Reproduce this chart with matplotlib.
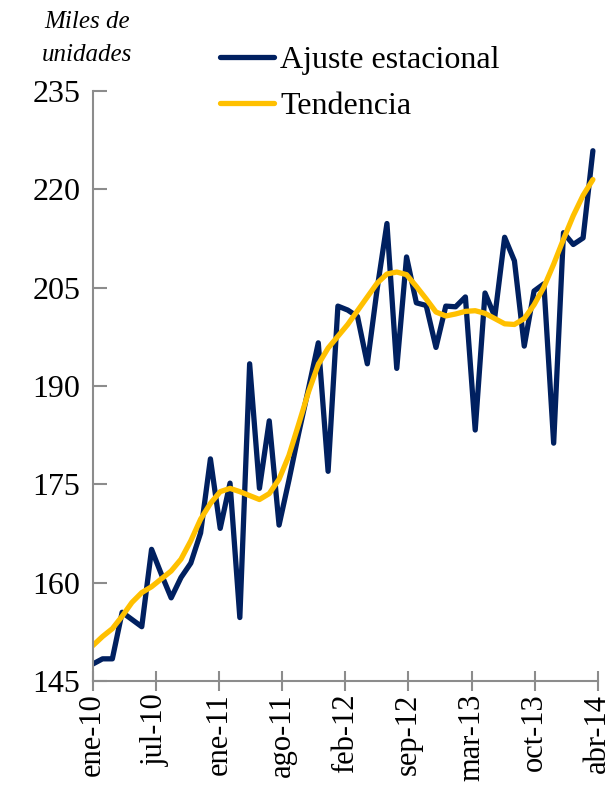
import numpy as np
import matplotlib.pyplot as plt

plt.rcParams['font.family'] = ['Liberation Serif', 'DejaVu Serif']

# monthly data, ene-10 .. abr-14
ajuste = [147.6, 148.4, 148.4, 155.5, 154.4, 153.3, 165.1, 161.3, 157.7, 160.8,
          163.0, 167.6, 178.9, 168.3, 175.2, 154.7, 193.4, 174.4, 184.7, 168.8,
          175.6, 182.8, 189.6, 196.6, 177.0, 202.2, 201.6, 200.6, 193.4, 204.8,
          214.8, 192.7, 209.7, 202.7, 202.3, 195.9, 202.2, 202.1, 203.6, 183.3,
          204.2, 200.6, 212.7, 209.1, 196.1, 204.5, 205.6, 181.3, 213.4, 211.6,
          212.6, 225.9]
tendencia = [150.4, 151.8, 153.0, 154.9, 157.0, 158.5, 159.4, 160.6, 161.8, 163.6,
             166.4, 169.7, 172.1, 173.9, 174.4, 173.9, 173.3, 172.7, 173.6, 175.8,
             179.4, 184.2, 189.1, 193.3, 195.8, 197.6, 199.4, 201.5, 203.6, 205.7,
             207.1, 207.4, 207.0, 205.2, 203.3, 201.3, 200.7, 201.0, 201.4, 201.5,
             201.1, 200.3, 199.5, 199.4, 200.3, 202.4, 205.1, 208.6, 212.4, 216.0,
             219.1, 221.5]
tick_labels = ['ene-10', 'jul-10', 'ene-11', 'ago-11', 'feb-12',
               'sep-12', 'mar-13', 'oct-13', 'abr-14']
y_ticks = [145, 160, 175, 190, 205, 220, 235]

x = np.arange(len(ajuste))
grey = '#8c8c8c'

fig = plt.figure(figsize=(6.1, 7.92), dpi=100)
ax = fig.add_axes([0.152, 0.140, 0.828, 0.745])

ax.plot(x, ajuste, color='#002060', linewidth=3.8, label='Ajuste estacional',
        solid_joinstyle='round', solid_capstyle='round')
ax.plot(x, tendencia, color='#FFC000', linewidth=3.8, label='Tendencia',
        solid_capstyle='round')

ax.set_ylim(145, 235)
ax.set_xlim(0, 51.5)
ax.set_yticks(y_ticks)
ax.set_xticks(np.linspace(0, 51.5, len(tick_labels)))
ax.set_xticklabels(tick_labels, rotation=90)

for s in ['top', 'right']:
    ax.spines[s].set_visible(False)
for s in ['left', 'bottom']:
    ax.spines[s].set_color(grey)
    ax.spines[s].set_linewidth(1.5)

ax.tick_params(axis='y', direction='in', length=10, width=1.5, color=grey,
               labelsize=23, pad=9)
ax.tick_params(axis='x', direction='inout', length=14, width=1.5, color=grey,
               labelsize=22, pad=2)

fig.text(0.143, 0.972, 'Miles de', style='italic', fontsize=18, ha='center', va='center')
fig.text(0.143, 0.931, 'unidades', style='italic', fontsize=18, ha='center', va='center')

ax.legend(loc='upper left', bbox_to_anchor=(0.226, 1.098), frameon=False,
          fontsize=23, handlelength=1.7, handletextpad=0.2, labelspacing=0.5,
          borderaxespad=0)

fig.savefig('out.png', dpi=100)
